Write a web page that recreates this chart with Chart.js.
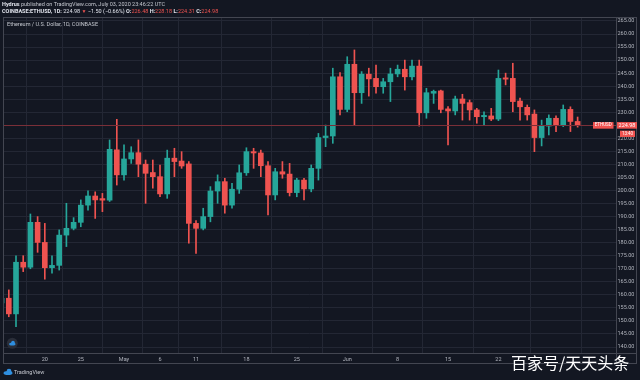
<!DOCTYPE html>
<html>
<head>
<meta charset="utf-8">
<script src="https://cdn.jsdelivr.net/npm/chart.js@4/dist/chart.umd.min.js"></script>
<style>
  html, body { margin: 0; padding: 0; background: #131722; }
  #c { display: block; }
</style>
</head>
<body>
<canvas id="c" width="640" height="380"></canvas>
<script>
// ETH/USD daily candles, Apr 14 .. Jul 3 2020
const opens = [156.9, 158.7, 152.7, 172.5, 170.6, 187.8, 180.1, 170.4, 171.3, 182.9,
  185.5, 187.8, 194.4, 197.9, 196.9, 196.3, 215.6, 206.0, 212.1, 214.5,
  210.1, 206.9, 205.3, 198.7, 212.4, 211.3, 210.2, 187.4, 185.5, 190.0,
  199.8, 203.4, 194.4, 200.5, 206.8, 214.9, 214.4, 209.5, 198.3, 207.2,
  206.3, 199.2, 204.0, 200.6, 208.5, 220.3, 220.9, 243.6, 231.1, 248.4,
  237.5, 244.6, 243.0, 239.8, 241.7, 244.7, 246.5, 243.6, 247.7, 229.8,
  237.3, 238.2, 231.3, 230.5, 235.1, 233.7, 230.9, 228.3, 228.6, 227.4,
  243.2, 243.0, 234.3, 231.9, 229.3, 220.3, 224.7, 227.7, 225.1, 231.1,
  226.48];
const highs = [160.0, 161.9, 175.0, 175.0, 191.0, 190.0, 187.4, 175.0, 184.9, 195.1,
  189.6, 196.4, 199.9, 199.5, 198.9, 219.4, 227.3, 217.5, 216.8, 219.4,
  211.7, 211.7, 209.8, 215.5, 216.2, 214.9, 211.1, 188.5, 193.2, 201.5,
  206.0, 204.7, 202.8, 209.8, 216.4, 216.2, 215.5, 211.1, 208.5, 211.1,
  210.4, 204.7, 204.7, 209.8, 221.9, 225.1, 246.9, 245.2, 251.3, 253.9,
  245.6, 246.9, 248.1, 243.0, 246.9, 248.1, 250.0, 250.0, 250.0, 239.2,
  238.5, 238.5, 232.2, 236.2, 236.9, 234.7, 231.5, 230.2, 231.5, 246.2,
  245.0, 248.8, 235.4, 232.8, 230.9, 227.0, 229.0, 228.6, 232.8, 232.1,
  228.18];
const lows = [155.0, 151.6, 147.8, 168.9, 170.0, 176.3, 166.0, 168.3, 169.5, 178.5,
  184.9, 186.1, 192.5, 189.3, 191.9, 195.8, 202.1, 204.0, 210.4, 205.3,
  195.1, 200.9, 197.6, 197.0, 205.3, 208.5, 179.8, 175.9, 184.9, 188.0,
  195.1, 191.3, 193.2, 198.9, 205.8, 208.5, 205.3, 190.6, 196.4, 204.7,
  197.9, 197.6, 196.4, 199.5, 204.0, 216.8, 218.1, 229.0, 230.2, 225.1,
  233.4, 236.2, 237.3, 237.3, 234.1, 243.6, 238.5, 242.4, 224.7, 227.7,
  233.4, 229.8, 217.5, 229.0, 227.0, 227.0, 225.8, 225.1, 226.8, 226.8,
  240.5, 230.2, 227.0, 227.0, 214.9, 217.1, 221.3, 222.6, 224.5, 222.6,
  224.31];
const closes = [158.7, 152.7, 172.5, 170.6, 187.8, 180.1, 170.4, 171.3, 182.9, 185.5,
  187.8, 194.4, 197.9, 196.4, 196.3, 215.8, 206.0, 212.1, 214.5, 210.1,
  206.6, 205.3, 198.7, 212.4, 211.1, 209.4, 187.4, 185.5, 190.0, 199.8,
  203.4, 194.4, 200.5, 206.8, 214.9, 214.4, 209.5, 198.3, 207.2, 206.3,
  199.2, 204.0, 200.6, 208.5, 220.3, 220.9, 243.6, 231.1, 248.4, 237.5,
  244.6, 242.8, 239.8, 241.7, 244.7, 246.5, 243.6, 247.7, 229.8, 237.5,
  238.0, 231.1, 230.5, 235.1, 233.4, 230.9, 228.3, 228.8, 227.4, 243.0,
  242.7, 234.1, 232.1, 229.0, 220.3, 224.7, 227.7, 225.1, 231.1, 226.48,
  224.98];

// time axis: candle index of each label
const tickIdx = [6, 11, 17, 22, 27, 34, 41, 48, 55, 62, 69, 78, 83];
const tickText = ['20', '25', 'May', '6', '11', '18', '25', 'Jun', '8', '15', '22', '', ''];
const priceTicks = [140, 145, 150, 155, 160, 165, 170, 175, 180, 185, 190, 195, 200,
  205, 210, 215, 220, 225, 230, 235, 240, 245, 250, 255, 260, 265];

const UP = '#26a69a';
const DOWN = '#ef5350';
const BG = '#131722';
const GRID = '#232734';
const LINE = '#434651';
const TXT = '#b2b5be';
const FONT = 'Roboto';

const lastClose = closes[closes.length - 1];
const colors = closes.map((c, i) => c >= opens[i] ? UP : DOWN);
const idx = closes.map((c, i) => i);

function txt(ctx, s, x, y, color, font) {
  ctx.font = font;
  ctx.fillStyle = color;
  ctx.fillText(s, x, y);
  return x + ctx.measureText(s).width;
}

const tvFrame = {
  id: 'tvFrame',
  beforeDraw(chart) {
    const ctx = chart.ctx;
    ctx.save();
    ctx.fillStyle = BG;
    ctx.fillRect(0, 0, chart.width, chart.height);
    ctx.restore();
  },
  afterDraw(chart) {
    const ctx = chart.ctx;
    const a = chart.chartArea;
    const py = chart.scales.y.getPixelForValue(lastClose);
    ctx.save();

    // last price line
    ctx.fillStyle = '#7a2f38';
    ctx.fillRect(a.left, Math.round(py), a.right - a.left, 1);

    // pane frame + axis separators
    ctx.strokeStyle = LINE;
    ctx.lineWidth = 1;
    ctx.beginPath();
    ctx.moveTo(3, 17.5); ctx.lineTo(637, 17.5);
    ctx.moveTo(3.5, 17); ctx.lineTo(3.5, 363);
    ctx.moveTo(636.5, 17); ctx.lineTo(636.5, 363);
    ctx.moveTo(3, 363.5); ctx.lineTo(637, 363.5);
    ctx.moveTo(a.right + 0.5, 17); ctx.lineTo(a.right + 0.5, 363);
    ctx.moveTo(3, a.bottom + 0.5); ctx.lineTo(637, a.bottom + 0.5);
    ctx.stroke();

    // header
    ctx.textBaseline = 'middle';
    let x = txt(ctx, 'Hydrus', 2, 5, '#e0e3eb', 'bold 5.5px ' + FONT);
    txt(ctx, ' published on TradingView.com, July 03, 2020 23:46:22 UTC', x, 5, '#c4c7cf', '5.5px ' + FONT);
    x = txt(ctx, 'COINBASE:ETHUSD, 1D:', 2, 12, '#e0e3eb', 'bold 5.5px ' + FONT);
    x = txt(ctx, ' 224.98 ', x, 12, '#e0e3eb', '5.5px ' + FONT);
    x = txt(ctx, '\u25BC', x, 12, DOWN, '5px ' + FONT);
    x = txt(ctx, ' \u22121.50 (\u22120.66%) ', x, 12, '#e0e3eb', '5.5px ' + FONT);
    const ohlc = [['O:', opens], ['H:', highs], ['L:', lows], ['C:', closes]];
    ohlc.forEach(([k, arr]) => {
      x = txt(ctx, k, x, 12, '#e0e3eb', 'bold 5.5px ' + FONT);
      x = txt(ctx, arr[arr.length - 1].toFixed(2) + ' ', x, 12, DOWN, '5.5px ' + FONT);
    });

    // series title
    txt(ctx, 'Ethereum / U.S. Dollar, 1D, COINBASE', 7, 25, '#c4c7cf', '5.5px ' + FONT);

    // last price tags
    ctx.fillStyle = DOWN;
    ctx.fillRect(593, py - 3.3, 20.5, 6.6);
    ctx.fillRect(a.right + 1, py - 3.3, 20, 6.6);
    ctx.fillRect(a.right + 4, py + 5.3, 15, 6.3);
    ctx.textAlign = 'center';
    txt(ctx, 'ETHUSD', 603.2, py, '#ffffff', '4.5px ' + FONT);
    txt(ctx, lastClose.toFixed(2), a.right + 11, py, '#ffffff', '5.5px ' + FONT);
    txt(ctx, '13:40', a.right + 11.5, py + 8.5, '#ffffff', '4.5px ' + FONT);
    ctx.textAlign = 'left';

    // logo badge in the pane
    ctx.fillStyle = '#2a2e39';
    ctx.beginPath(); ctx.arc(12.3, 343.3, 5.5, 0, Math.PI * 2); ctx.fill();
    ctx.fillStyle = '#2f8fe0';
    ctx.beginPath(); ctx.ellipse(12.3, 344, 3.2, 1.6, 0, 0, Math.PI * 2); ctx.fill();
    ctx.beginPath(); ctx.arc(13, 342.6, 1.8, 0, Math.PI * 2); ctx.fill();

    // footer
    ctx.fillStyle = '#2f8fe0';
    ctx.beginPath(); ctx.ellipse(8, 373, 4.5, 2, 0, 0, Math.PI * 2); ctx.fill();
    ctx.beginPath(); ctx.arc(9, 371.2, 2.4, 0, Math.PI * 2); ctx.fill();
    txt(ctx, 'TradingView', 14, 372.5, '#c4c7cf', '5.5px ' + FONT);

    // watermark
    ctx.textBaseline = 'alphabetic';
    txt(ctx, '百家号/天天头条', 511, 368.5, '#ffffff', '16px "Noto Sans CJK SC"');
    ctx.restore();
  }
};

new Chart(document.getElementById('c'), {
  type: 'bar',
  data: {
    datasets: [
      {
        data: idx.map(i => ({ x: i, y: [lows[i], highs[i]] })),
        backgroundColor: colors,
        barThickness: 1,
        grouped: false,
        clip: 0,
        order: 2
      },
      {
        data: idx.map(i => ({ x: i, y: [opens[i], closes[i]] })),
        backgroundColor: colors,
        barThickness: 5,
        minBarLength: 1,
        grouped: false,
        clip: 0,
        order: 1
      }
    ]
  },
  options: {
    responsive: false,
    animation: false,
    layout: { padding: { left: 3, top: 17, right: 0, bottom: 0 } },
    plugins: { legend: { display: false }, tooltip: { enabled: false } },
    scales: {
      x: {
        type: 'linear',
        min: 0.194,
        max: 85.33,
        offset: false,
        afterBuildTicks: s => { s.ticks = tickIdx.map(v => ({ value: v })); },
        afterFit: s => { s.height = 27; },
        ticks: {
          callback: (v, i) => tickText[i],
          autoSkip: false,
          maxRotation: 0,
          padding: 3.5,
          color: TXT,
          font: { family: FONT, size: 5.5 }
        },
        grid: { color: GRID, drawTicks: false },
        border: { display: false }
      },
      y: {
        position: 'right',
        min: 137.7,
        max: 266.53,
        afterBuildTicks: s => { s.ticks = priceTicks.map(v => ({ value: v })); },
        afterFit: s => { s.width = 24; },
        ticks: {
          callback: v => v.toFixed(2),
          padding: 1.5,
          color: TXT,
          font: { family: FONT, size: 5.5 }
        },
        grid: { color: GRID, drawTicks: false },
        border: { display: false }
      }
    }
  },
  plugins: [tvFrame]
});
</script>
</body>
</html>
